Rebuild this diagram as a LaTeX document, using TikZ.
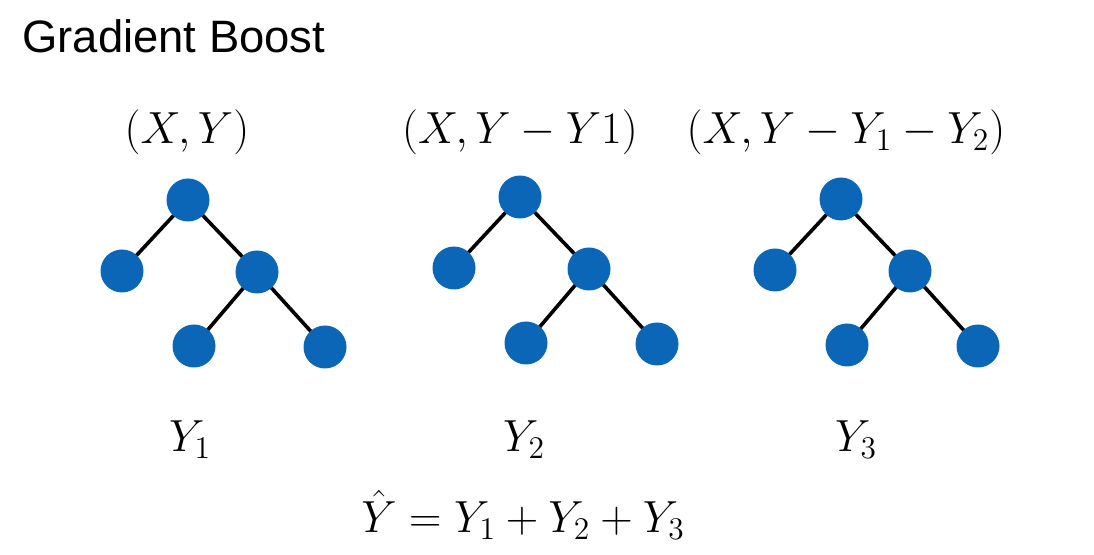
\RequirePackage{fix-cm}
\documentclass[tikz,border=0pt]{standalone}
\usepackage{amsmath}
\usepackage{fontspec}
\newfontfamily\titlefont{Liberation Sans}
\usepackage{xcolor}
\usepackage{tikz}
\usetikzlibrary{positioning}
\usetikzlibrary{backgrounds}
\definecolor{nodeblue}{RGB}{11,102,184}

\tikzset{
  tnode/.style={circle, fill=nodeblue, inner sep=0pt, minimum size=21.5pt},
  tedge/.style={line width=1.8pt, black},
  mlabel/.style={font=\fontsize{22.5}{27}\selectfont, inner sep=0pt}
}

\begin{document}
\begin{tikzpicture}[x=0.5pt,y=-0.5pt]
\useasboundingbox (0,0) rectangle (1094,555);

% Title
\node[anchor=base west, inner sep=0pt, font=\titlefont\fontsize{22.7}{27}\selectfont] (title) at (22,53) {Gradient Boost};

% Define trees
\foreach \t/\x/\y in {1/188/200, 2/520/197, 3/841/199} {
  \begin{scope}[shift={(\x,\y)}]
    \node[tnode] (r\t) at (0,0) {};
    \node[tnode] (a\t) at (-66,71) {};
    \node[tnode] (b\t) at (69,72) {};
    \node[tnode] (c\t) at (6,146) {};
    \node[tnode] (d\t) at (137,147) {};
  \end{scope}
}

% Connect the nodes
\begin{scope}[on background layer]
\foreach \t in {1,2,3} {
  \draw[tedge] (r\t.center) -- (a\t.center);
  \draw[tedge] (r\t.center) -- (b\t.center);
  \draw[tedge] (b\t.center) -- (c\t.center);
  \draw[tedge] (b\t.center) -- (d\t.center);
}
\end{scope}

% Data labels
\node[mlabel, anchor=base] (d1) at (187,144) {$(X,Y)$};
\node[mlabel, anchor=base] (d2) at (520,144) {$(X,Y-Y1)$};
\node[mlabel, anchor=base] (d3) at (846,144) {$(X,Y-Y_1-Y_2)$};

% Tree outputs
\node[mlabel, anchor=base] (y1) at (190,452) {$Y_1$};
\node[mlabel, anchor=base] (y2) at (524,452) {$Y_2$};
\node[mlabel, anchor=base] (y3) at (856,452) {$Y_3$};

% Sum
\node[mlabel, anchor=base] (sum) at (523,533) {$\hat{Y}=Y_1+Y_2+Y_3$};
\end{tikzpicture}
\end{document}
